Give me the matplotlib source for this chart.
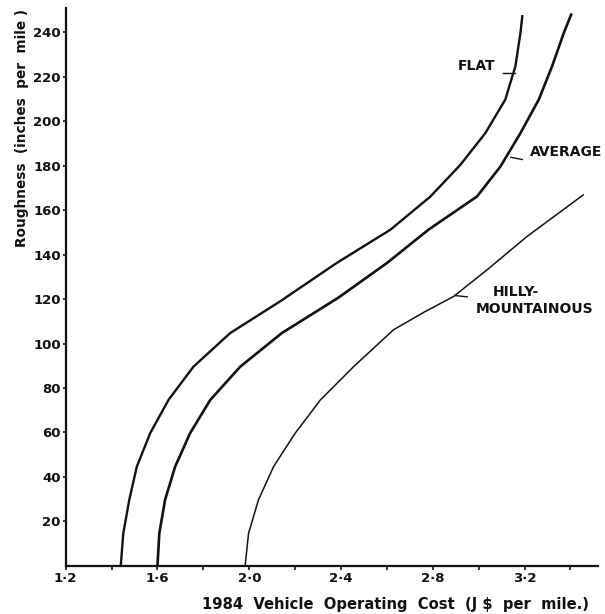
import matplotlib
matplotlib.use("Agg")
import matplotlib.pyplot as plt

# Data (x = cost J$/mile, y = roughness in/mile)
flat_x = [1.44, 1.451, 1.477, 1.510, 1.568, 1.648, 1.757, 1.917, 2.135, 2.382,
          2.615, 2.789, 2.920, 3.029, 3.116, 3.160, 3.182, 3.19]
flat_y = [0, 14.6, 29.6, 44.6, 59.6, 74.6, 89.6, 104.7, 119.0, 136.3,
          151.2, 166.1, 180.4, 194.7, 209.8, 224.8, 239.8, 247.3]

avg_x = [1.600, 1.608, 1.633, 1.677, 1.742, 1.830, 1.961, 2.142, 2.388, 2.601,
         2.782, 2.993, 3.095, 3.182, 3.262, 3.320, 3.371, 3.403]
avg_y = [0, 14.6, 29.6, 44.6, 59.6, 74.6, 89.6, 104.7, 120.6, 136.3,
         151.3, 166.2, 179.7, 194.7, 209.8, 224.8, 239.8, 248.0]

hilly_x = [1.982, 1.997, 2.040, 2.106, 2.200, 2.310, 2.455, 2.629, 2.760, 2.891,
           3.037, 3.211, 3.456]
hilly_y = [0, 14.6, 29.6, 44.6, 59.6, 74.6, 89.6, 106.2, 114.0, 121.2,
           133.2, 148.2, 166.9]

x_ticks = [1.2, 1.4, 1.6, 1.8, 2.0, 2.2, 2.4, 2.6, 2.8, 3.0, 3.2, 3.4]
x_tick_labels = ["1·2", "", "1·6", "", "2·0", "", "2·4", "", "2·8", "", "3·2", ""]
y_ticks = [20, 40, 60, 80, 100, 120, 140, 160, 180, 200, 220, 240]

INK = "#111111"
W, H = 605, 614
fig = plt.figure(figsize=(W / 100, H / 100), dpi=100)
ax = fig.add_axes([65.7 / W, 1 - 565.7 / H, (598 - 65.7) / W, (565.7 - 8) / H])

ax.plot(flat_x, flat_y, color=INK, lw=1.7, solid_joinstyle="round")
ax.plot(avg_x, avg_y, color=INK, lw=1.9, solid_joinstyle="round")
ax.plot(hilly_x, hilly_y, color=INK, lw=1.1, solid_joinstyle="round")

ax.set_xlim(1.2, 3.52)
ax.set_ylim(0, 251)
for s in ["top", "right"]:
    ax.spines[s].set_visible(False)
for s in ["left", "bottom"]:
    ax.spines[s].set_linewidth(1.6)
    ax.spines[s].set_color(INK)

ax.set_xticks(x_ticks)
ax.set_xticklabels(x_tick_labels)
ax.set_yticks(y_ticks)
ax.set_yticklabels([str(v) for v in y_ticks])
ax.tick_params(axis="x", direction="out", length=3, width=1.2, colors=INK,
               labelsize=9.5, pad=1.5)
ax.tick_params(axis="y", direction="out", length=2.5, width=1.2, colors=INK,
               labelsize=9.5, pad=1)
for lbl in ax.get_xticklabels() + ax.get_yticklabels():
    lbl.set_fontweight("bold")

# Axis titles
fig.text(22 / W, 1 - 128 / H, "Roughness  (inches  per  mile )", rotation=90,
         ha="center", va="center", fontsize=9.8, fontweight="bold", color=INK)
fig.text(396 / W, 1 - 605 / H, "1984  Vehicle  Operating  Cost  (J $  per  mile.)",
         ha="center", va="center", fontsize=10.6, fontweight="bold", color=INK)

# Curve labels with short leader lines
ax.text(2.990, 225.1, "FLAT", ha="center", va="center", fontsize=10,
        fontweight="bold", color=INK)
ax.plot([3.108, 3.157], [221.8, 221.8], color=INK, lw=1.0)

ax.text(3.222, 186.1, "AVERAGE", ha="left", va="center", fontsize=10,
        fontweight="bold", color=INK)
ax.plot([3.14, 3.19], [183.8, 182.8], color=INK, lw=1.0)

ax.text(3.161, 123.4, "HILLY-", ha="center", va="center", fontsize=10,
        fontweight="bold", color=INK)
ax.text(3.243, 115.6, "MOUNTAINOUS", ha="center", va="center", fontsize=10,
        fontweight="bold", color=INK)
ax.plot([2.895, 2.950], [121.6, 121.0], color=INK, lw=1.0)

fig.savefig("out.png", dpi=100, facecolor="white")
